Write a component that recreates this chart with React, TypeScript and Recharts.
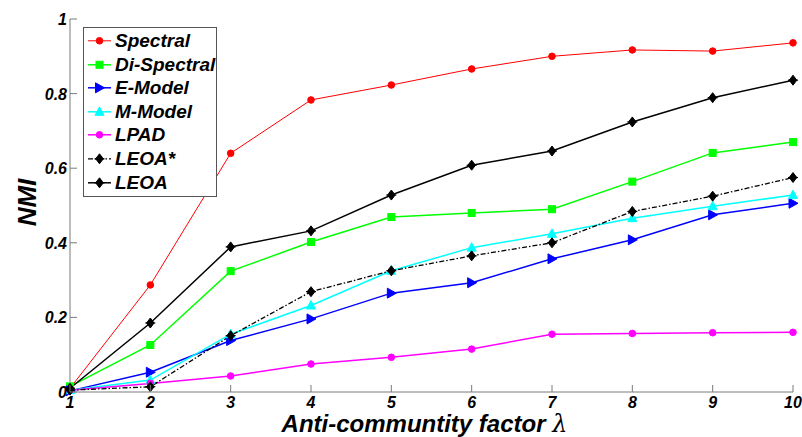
import React from 'react';
import { LineChart, Line, XAxis, YAxis, Legend } from 'recharts';

const lambdas = [1, 2, 3, 4, 5, 6, 7, 8, 9, 10];
const spectral = [0.01, 0.287, 0.64, 0.783, 0.823, 0.866, 0.9, 0.917, 0.914, 0.936];
const diSpectral = [0.015, 0.126, 0.324, 0.402, 0.469, 0.48, 0.49, 0.564, 0.641, 0.67];
const eModel = [0.003, 0.053, 0.138, 0.196, 0.265, 0.293, 0.357, 0.408, 0.475, 0.506];
const mModel = [0.005, 0.032, 0.155, 0.232, 0.325, 0.387, 0.424, 0.466, 0.498, 0.528];
const lpad = [0.005, 0.023, 0.043, 0.075, 0.093, 0.115, 0.155, 0.157, 0.159, 0.16];
const leoaStar = [0.005, 0.014, 0.151, 0.269, 0.325, 0.365, 0.4, 0.484, 0.525, 0.575];
const leoa = [0.01, 0.185, 0.389, 0.432, 0.528, 0.608, 0.646, 0.724, 0.789, 0.836];

const xTicks = [1, 2, 3, 4, 5, 6, 7, 8, 9, 10];
const yTicks = [0, 0.2, 0.4, 0.6, 0.8, 1];

const seriesNames = ['Spectral', 'Di-Spectral', 'E-Model', 'M-Model', 'LPAD', 'LEOA*', 'LEOA'];
const seriesKeys = ['spectral', 'diSpectral', 'eModel', 'mModel', 'lpad', 'leoaStar', 'leoa'];
const seriesColors = ['#ff0000', '#00ff00', '#0000ff', '#00ffff', '#ff00ff', '#000000', '#000000'];
const seriesMarkers = ['circle', 'square', 'triRight', 'triUp', 'circle', 'diamond', 'diamond'];
const seriesDash = ['', '', '', '', '', '5 2 1.5 2', ''];
const seriesWidth = [1, 1.5, 1.5, 1.5, 1.5, 1.3, 1.5];

const data = lambdas.map((x, i) => ({
  x,
  spectral: spectral[i],
  diSpectral: diSpectral[i],
  eModel: eModel[i],
  mModel: mModel[i],
  lpad: lpad[i],
  leoaStar: leoaStar[i],
  leoa: leoa[i],
}));

const AXIS = '#7a7a7a';
const FONT = '"Liberation Sans", Arial, sans-serif';
const tickStyle: React.CSSProperties = {
  fontFamily: FONT,
  fontSize: 16,
  fontWeight: 'bold',
  fontStyle: 'italic',
  fill: '#000',
};

function marker(kind: string, cx: number, cy: number, color: string) {
  switch (kind) {
    case 'circle':
      return <circle cx={cx} cy={cy} r={3.3} fill={color} stroke={color} />;
    case 'square':
      return <rect x={cx - 3.5} y={cy - 3.5} width={7} height={7} fill={color} stroke={color} />;
    case 'triRight':
      return (
        <polygon
          points={`${cx - 4},${cy - 5} ${cx + 5},${cy} ${cx - 4},${cy + 5}`}
          fill={color}
          stroke={color}
        />
      );
    case 'triUp':
      return (
        <polygon
          points={`${cx},${cy - 5} ${cx + 4.5},${cy + 3.5} ${cx - 4.5},${cy + 3.5}`}
          fill={color}
          stroke={color}
        />
      );
    case 'diamond':
      return (
        <g>
          <polygon
            points={`${cx},${cy - 5} ${cx + 3.8},${cy} ${cx},${cy + 5} ${cx - 3.8},${cy}`}
            fill={color}
            stroke={color}
          />
          <line x1={cx - 5} y1={cy} x2={cx + 5} y2={cy} stroke={color} strokeWidth={1.2} />
        </g>
      );
    default:
      return null;
  }
}

const makeDot = (idx: number) => (props: any) => {
  const { cx, cy, index } = props;
  if (cx == null || cy == null) return <g key={`d-${idx}-${index}`} />;
  return <g key={`d-${idx}-${index}`}>{marker(seriesMarkers[idx], cx, cy, seriesColors[idx])}</g>;
};

const BottomTick = (props: any) => {
  const { x, y, payload } = props;
  return (
    <g>
      <line x1={x} y1={y} x2={x} y2={y - 7} stroke={AXIS} />
      <text x={x} y={y + 16} textAnchor="middle" style={tickStyle}>
        {payload.value}
      </text>
    </g>
  );
};

const TopTick = (props: any) => {
  const { x, y } = props;
  return <line x1={x} y1={y} x2={x} y2={y + 7} stroke={AXIS} />;
};

const LeftTick = (props: any) => {
  const { x, y, payload } = props;
  return (
    <g>
      <line x1={x} y1={y} x2={x + 7} y2={y} stroke={AXIS} />
      <text x={x - 3} y={y + 6} textAnchor="end" style={tickStyle}>
        {payload.value}
      </text>
    </g>
  );
};

const RightTick = (props: any) => {
  const { x, y } = props;
  return <line x1={x} y1={y} x2={x - 7} y2={y} stroke={AXIS} />;
};

const XLabel = (props: any) => {
  const vb = props.viewBox || { x: 70, y: 392, width: 723, height: 45 };
  const cx = vb.x + vb.width / 2 - 7;
  return (
    <text
      x={cx}
      y={vb.y + 40}
      textAnchor="middle"
      style={{ fontFamily: FONT, fontSize: 24, fontWeight: 'bold', fontStyle: 'italic', fill: '#000' }}
    >
      Anti-communtity factor{' '}
      <tspan style={{ fontFamily: '"DejaVu Serif", serif', fontWeight: 'normal', fontStyle: 'italic' }}>λ</tspan>
    </text>
  );
};

const YLabel = (props: any) => {
  const vb = props.viewBox || { x: 0, y: 19, width: 70, height: 373 };
  const cy = vb.y + vb.height / 2 - 3;
  const bx = 36;
  return (
    <text
      x={bx}
      y={cy}
      textAnchor="middle"
      transform={`rotate(-90, ${bx}, ${cy})`}
      style={{ fontFamily: FONT, fontSize: 26, fontWeight: 'bold', fontStyle: 'italic', fill: '#000' }}
    >
      NMI
    </text>
  );
};

const LegendBox = () => (
  <div
    style={{
      border: '1px solid #555',
      background: '#fff',
      width: 132,
      padding: '1px 0 2px 0',
      boxSizing: 'content-box',
    }}
  >
    {seriesNames.map((name, i) => (
      <div
        key={name}
        style={{ display: 'flex', alignItems: 'center', height: 23.6 }}
      >
        <svg width={31} height={23.6} style={{ display: 'block', flex: 'none' }}>
          <line
            x1={4}
            y1={11.8}
            x2={27}
            y2={11.8}
            stroke={seriesColors[i]}
            strokeWidth={seriesWidth[i]}
            strokeDasharray={seriesDash[i] || undefined}
          />
          {marker(seriesMarkers[i], 15.5, 11.8, seriesColors[i])}
        </svg>
        <span
          style={{
            fontFamily: FONT,
            fontSize: 19,
            fontWeight: 'bold',
            fontStyle: 'italic',
            color: '#000',
            lineHeight: '23.6px',
            whiteSpace: 'nowrap',
          }}
        >
          {name}
        </span>
      </div>
    ))}
  </div>
);

export default function App() {
  return (
    <div style={{ position: 'absolute', left: 0, top: 0, width: 802, height: 437, background: '#fff' }}>
      <LineChart
        width={802}
        height={437}
        data={data}
        margin={{ top: 19, right: 9, bottom: 0, left: 0 }}
      >
        <XAxis
          dataKey="x"
          type="number"
          domain={[1, 10]}
          ticks={xTicks}
          interval={0}
          height={45}
          tickSize={0}
          tickMargin={0}
          tickLine={false}
          axisLine={{ stroke: AXIS }}
          tick={<BottomTick />}
          label={<XLabel />}
        />
        <XAxis
          xAxisId="top"
          dataKey="x"
          type="number"
          orientation="top"
          domain={[1, 10]}
          ticks={xTicks}
          interval={0}
          height={0}
          tickSize={0}
          tickMargin={0}
          tickLine={false}
          axisLine={{ stroke: AXIS }}
          tick={<TopTick />}
        />
        <YAxis
          type="number"
          domain={[0, 1]}
          ticks={yTicks}
          interval={0}
          width={70}
          tickSize={0}
          tickMargin={0}
          tickLine={false}
          axisLine={{ stroke: AXIS }}
          tick={<LeftTick />}
          label={<YLabel />}
        />
        <YAxis
          yAxisId="right"
          type="number"
          orientation="right"
          domain={[0, 1]}
          ticks={yTicks}
          interval={0}
          width={0}
          tickSize={0}
          tickMargin={0}
          tickLine={false}
          axisLine={{ stroke: AXIS }}
          tick={<RightTick />}
        />
        {seriesKeys.map((k, i) => (
          <Line
            key={k}
            dataKey={k}
            name={seriesNames[i]}
            type="linear"
            stroke={seriesColors[i]}
            strokeWidth={seriesWidth[i]}
            strokeDasharray={seriesDash[i] || undefined}
            dot={makeDot(i)}
            activeDot={false}
            isAnimationActive={false}
          />
        ))}
        <Legend
          layout="vertical"
          align="center"
          verticalAlign="middle"
          content={<LegendBox />}
          wrapperStyle={{ left: 83, top: 27, width: 134, height: 'auto' }}
        />
      </LineChart>
    </div>
  );
}
